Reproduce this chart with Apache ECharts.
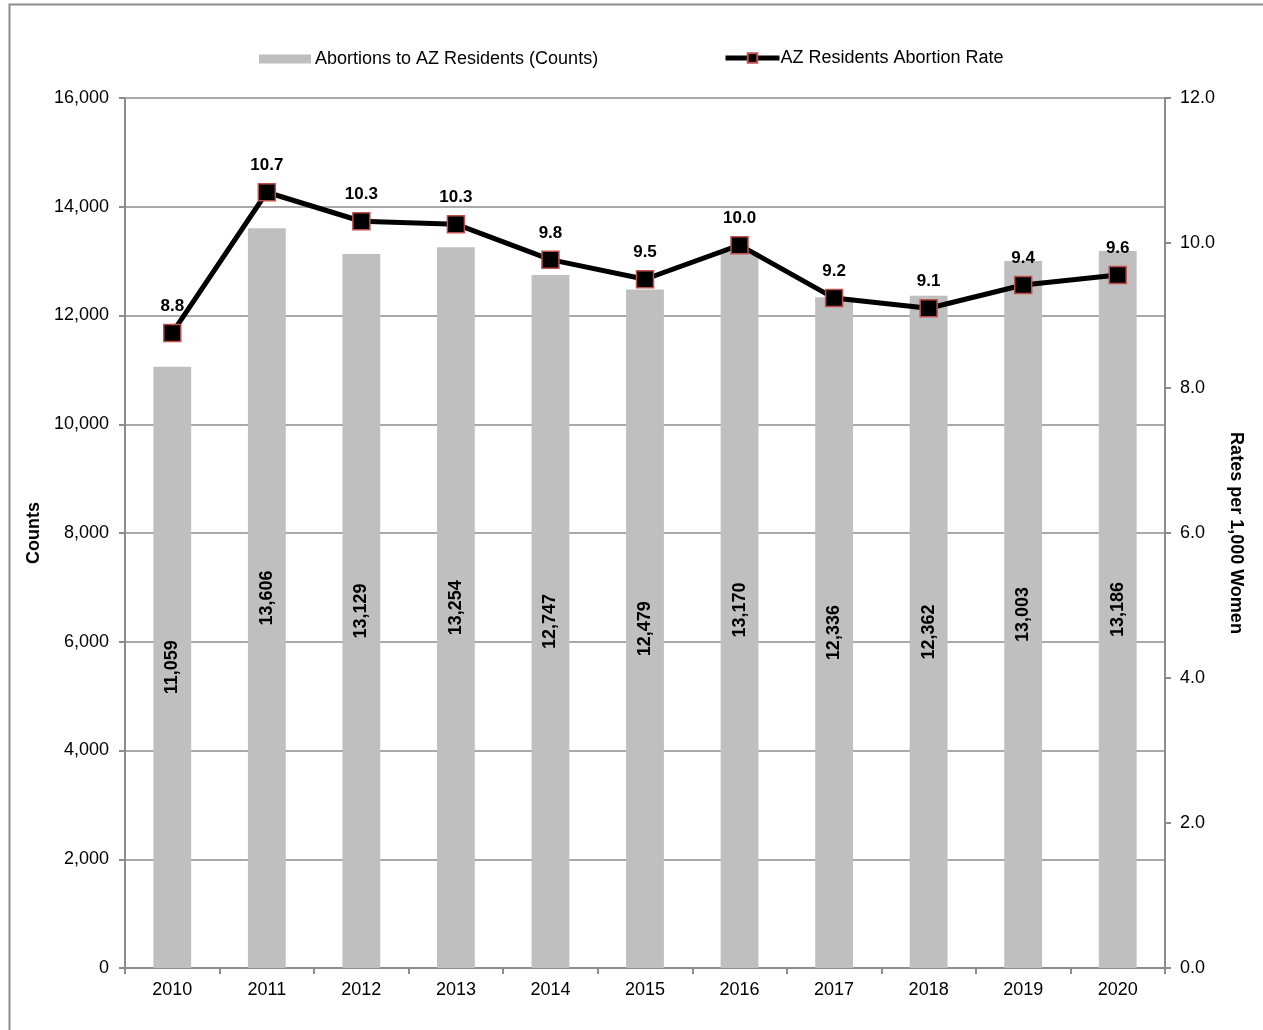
<!DOCTYPE html>
<html>
<head>
<meta charset="utf-8">
<script src="https://cdn.jsdelivr.net/npm/echarts@6/dist/echarts.min.js"></script>
<style>
html,body{margin:0;padding:0;background:#fff;}
#chart{width:1263px;height:1030px;}
</style>
</head>
<body>
<div id="chart"></div>
<script>
var years = ['2010','2011','2012','2013','2014','2015','2016','2017','2018','2019','2020'];
var counts = [11059, 13606, 13129, 13254, 12747, 12479, 13170, 12336, 12362, 13003, 13186];
var rates = [8.76, 10.70, 10.30, 10.26, 9.77, 9.50, 9.97, 9.24, 9.10, 9.42, 9.56];
var barName = 'Abortions to AZ Residents (Counts)';
var lineName = 'AZ Residents Abortion Rate';

var FONT = '"Liberation Sans", Arial, sans-serif';
var chart = echarts.init(document.getElementById('chart'));
chart.setOption({
  animation: false,
  textStyle: {fontFamily: FONT},
  graphic: [{
    type: 'rect', left: 7, top: 2, silent: true,
    shape: {width: 1400, height: 1200},
    style: {fill: 'none', stroke: '#8c8c8c', lineWidth: 2}
  }],
  legend: [{
    top: 45, left: 254, itemGap: 0,
    textStyle: {fontSize: 18, color: '#000', fontFamily: FONT, padding: [0, 0, 0, -1]},
    data: [{name: barName, icon: 'rect', itemStyle: {color: '#bfbfbf'}}],
    itemWidth: 52, itemHeight: 9
  }, {
    top: 44, left: 718, itemGap: 0,
    textStyle: {fontSize: 18, color: '#000', fontFamily: FONT, padding: [0, 0, 0, -4]},
    data: [{name: lineName, lineStyle: {width: 5, color: '#000'}}],
    itemWidth: 54, itemHeight: 12
  }],
  grid: {left: 125, right: 98, top: 98, bottom: 62},
  xAxis: {
    type: 'category', data: years,
    axisLine: {lineStyle: {color: '#8c8c8c', width: 2}},
    axisTick: {show: true, length: 6, lineStyle: {color: '#8c8c8c', width: 2}},
    axisLabel: {fontSize: 18, color: '#000', margin: 13}
  },
  yAxis: [{
    type: 'value', min: 0, max: 16000, interval: 2000,
    name: 'Counts', nameLocation: 'middle', nameGap: 82, nameRotate: 90,
    nameTextStyle: {fontSize: 18, fontWeight: 'bold', color: '#000'},
    axisLine: {show: true, lineStyle: {color: '#8c8c8c', width: 2}},
    axisTick: {show: true, length: 6, lineStyle: {color: '#8c8c8c', width: 2}},
    axisLabel: {fontSize: 18, color: '#000', margin: 16,
      formatter: function(v){ return v.toLocaleString('en-US'); }},
    splitLine: {show: true, lineStyle: {color: '#8c8c8c', width: 1.5}}
  }, {
    type: 'value', min: 0, max: 12, interval: 2, position: 'right',
    name: 'Rates per 1,000 Women', nameLocation: 'middle', nameGap: 62, nameRotate: -90,
    nameTextStyle: {fontSize: 18, fontWeight: 'bold', color: '#000'},
    axisLine: {show: true, lineStyle: {color: '#8c8c8c', width: 2}},
    axisTick: {show: true, length: 6, lineStyle: {color: '#8c8c8c', width: 2}},
    axisLabel: {fontSize: 18, color: '#000', margin: 15,
      formatter: function(v){ return v.toFixed(1); }},
    splitLine: {show: false}
  }],
  series: [{
    name: barName, type: 'bar', data: counts, yAxisIndex: 0,
    barWidth: '40%',
    itemStyle: {color: '#bfbfbf'},
    label: {show: true, position: 'inside', rotate: 90, fontSize: 18, fontWeight: 'bold', color: '#000',
      formatter: function(p){ return p.value.toLocaleString('en-US'); }}
  }, {
    name: lineName, type: 'line', data: rates, yAxisIndex: 1,
    symbol: 'rect', symbolSize: 17,
    lineStyle: {color: '#000', width: 5},
    itemStyle: {color: '#000', borderColor: '#c0504d', borderWidth: 1.5},
    label: {show: true, position: 'top', distance: 9, fontSize: 17, fontWeight: 'bold', color: '#000',
      formatter: function(p){ return p.value.toFixed(1); }},
    z: 5
  }]
});
</script>
</body>
</html>
